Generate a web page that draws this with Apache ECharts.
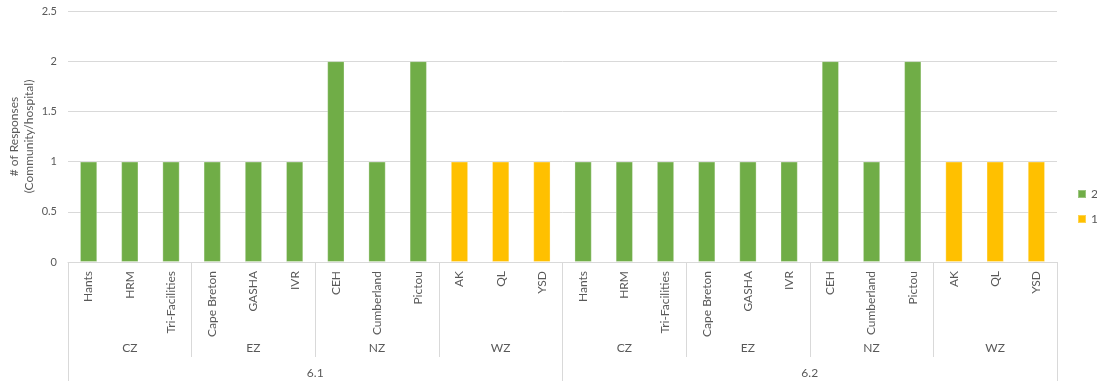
<!DOCTYPE html>
<html><head><meta charset="utf-8">
<script src="https://cdn.jsdelivr.net/npm/echarts@6/dist/echarts.min.js"></script>
<style>html,body{margin:0;padding:0;background:#fff}#c{width:1097px;height:381px}</style>
</head><body><div id="c"></div>
<script>
const items = ['Hants','HRM','Tri-Facilities','Cape Breton','GASHA','IVR','CEH','Cumberland','Pictou','AK','QL','YSD',
               'Hants','HRM','Tri-Facilities','Cape Breton','GASHA','IVR','CEH','Cumberland','Pictou','AK','QL','YSD'];
const zones = ['CZ','EZ','NZ','WZ','CZ','EZ','NZ','WZ'];
const sections = ['6.1','6.2'];
const series2 = [1,1,1,1,1,1,2,1,2,null,null,null, 1,1,1,1,1,1,2,1,2,null,null,null];
const series1 = [null,null,null,null,null,null,null,null,null,1,1,1, null,null,null,null,null,null,null,null,null,1,1,1];
const yTicks = {min:0, max:2.5, interval:0.5};

const font = 'Lato, "Liberation Sans", sans-serif';
const txt = '#595959';
const line = '#d9d9d9';
const chart = echarts.init(document.getElementById('c'));
chart.setOption({
  animation:false,
  textStyle:{fontFamily:font},
  grid:{left:68, right:40, top:11, bottom:119, containLabel:false, outerBoundsMode:'none'},
  legend:{orient:'vertical', left:1077, top:188, itemWidth:8, itemHeight:8, itemGap:13, padding:[0,0,0,0],
    icon:'rect', data:['2','1'], textStyle:{color:txt, fontSize:12, fontFamily:font}},
  yAxis:{type:'value', min:yTicks.min, max:yTicks.max, interval:yTicks.interval,
    name:'# of Responses\n(Community/hospital)', nameLocation:'middle', nameGap:31, nameRotate:90,
    nameMoveOverlap:false,
    nameTextStyle:{color:txt, fontSize:12, fontFamily:font, lineHeight:15},
    axisLine:{show:false}, axisTick:{show:false},
    axisLabel:{color:txt, fontSize:11, margin:11, fontFamily:font},
    splitLine:{lineStyle:{color:line, width:1}}},
  xAxis:[
    {type:'category', data:items, position:'bottom', axisLine:{lineStyle:{color:line}},
     axisTick:{show:false}, axisLabel:{rotate:90, interval:0, color:txt, fontSize:12, margin:9, fontFamily:font}},
    {type:'category', data:zones, position:'bottom', axisLine:{show:false},
     axisTick:{show:true, interval:0, length:95, lineStyle:{color:line}},
     axisLabel:{interval:0, color:txt, fontSize:12, margin:80, fontFamily:font}},
    {type:'category', data:sections, position:'bottom', axisLine:{show:false},
     axisTick:{show:true, interval:0, length:120, lineStyle:{color:line}},
     axisLabel:{interval:0, color:txt, fontSize:12, margin:105, fontFamily:font}}
  ],
  series:[
    {name:'1', type:'bar', stack:'s', xAxisIndex:0, data:series1, barWidth:'42%',
     itemStyle:{color:'#FFC000', borderColor:'rgba(255,255,255,0.3)', borderWidth:1}},
    {name:'2', type:'bar', stack:'s', xAxisIndex:0, data:series2, barWidth:'42%',
     itemStyle:{color:'#70AD47', borderColor:'rgba(255,255,255,0.3)', borderWidth:1}}
  ]
});
</script></body></html>
